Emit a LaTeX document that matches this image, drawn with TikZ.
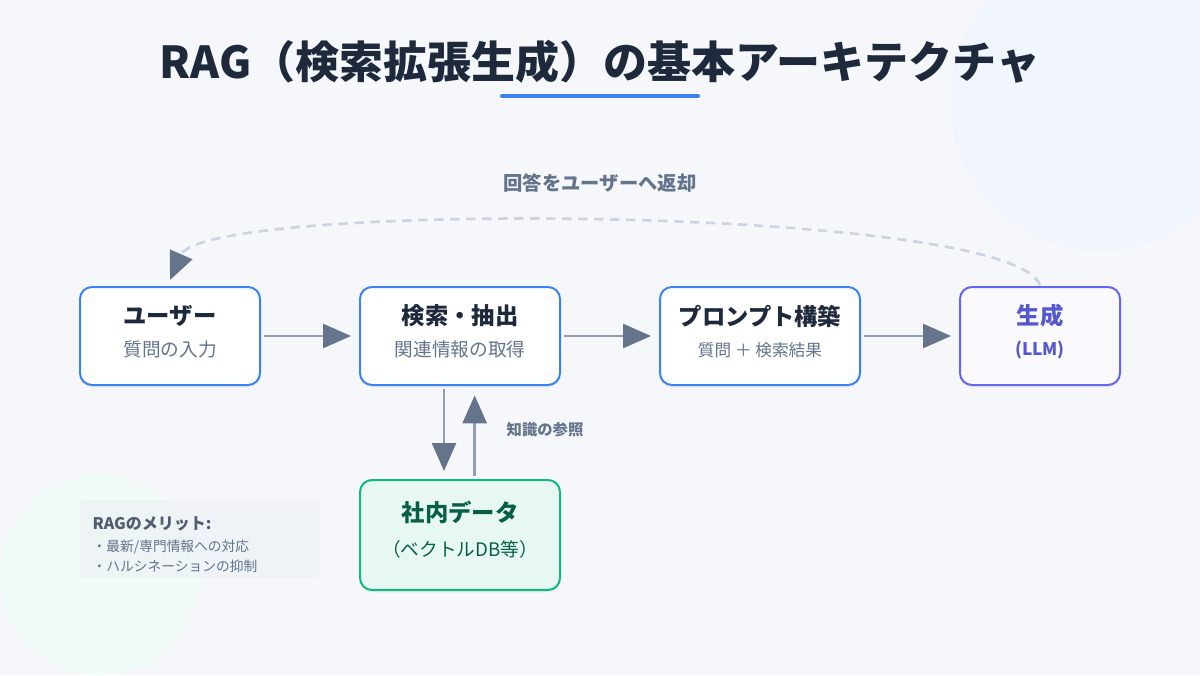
\documentclass[tikz,border=0pt]{standalone}
\usepackage{fontspec}
\setmainfont{Noto Sans CJK JP}
\usetikzlibrary{arrows.meta,shadows}
\definecolor{bgc}{HTML}{F5F7FA}
\definecolor{ink}{HTML}{1E293B}
\definecolor{sub}{HTML}{64748B}
\definecolor{blu}{HTML}{3B82F6}
\definecolor{pur}{HTML}{6366F1}
\definecolor{grn}{HTML}{10B981}
\definecolor{dgrn}{HTML}{065F46}
\definecolor{arr}{HTML}{64748B}
\definecolor{dsh}{HTML}{CBD5E1}
\definecolor{mer}{HTML}{EEF1F5}
\begin{document}
\begin{tikzpicture}[x=0.75pt,y=-0.75pt,
 box/.style={draw=blu,line width=1.5pt,fill=white,rounded corners=9pt,drop shadow={opacity=0.08,shadow xshift=0pt,shadow yshift=-2pt}},
 tip/.style={-{Triangle[length=21pt,width=18pt,color=arr]}},
 flow/.style={draw=arr!70,line width=2pt,tip},
 tt/.style={font=\fontsize{17.5}{20}\selectfont\bfseries,text=ink},
 st/.style={font=\fontsize{14}{17}\selectfont,text=sub}]
\fill[bgc] (0,0) rectangle (1200,675);
\useasboundingbox (0,0) rectangle (1200,675);
\fill[blu!7] (1100,100) circle (150);
\fill[grn!6] (100,575) circle (100);
\node[font=\fontsize{33}{38}\selectfont\bfseries,text=ink] (title) at (600,62) {RAG（検索拡張生成）の基本アーキテクチャ};
\draw[blu,line width=3pt,line cap=round] (502,96) -- (698,96);
\node[box,minimum width=135pt,minimum height=73.5pt] (user) at (170,336) {};
\node[tt] (ut) at (170,316) {ユーザー};
\node[st] (us) at (170,349) {質問の入力};
\node[box,minimum width=150pt,minimum height=73.5pt] (srch) at (460,336) {};
\node[tt] (sst) at (460,316) {検索・抽出};
\node[st] (sss) at (460,349) {関連情報の取得};
\node[box,minimum width=150pt,minimum height=73.5pt] (prm) at (760,336) {};
\node[tt] (pt) at (760,316) {プロンプト構築};
\node[st,font=\fontsize{12.5}{15}\selectfont] (ps) at (760,350) {質問 ＋ 検索結果};
\node[box,draw=pur,minimum width=120pt,minimum height=73.5pt,fill=pur!4] (gen) at (1040,336) {};
\node[tt,text=pur!85!black] (gt) at (1040,316) {生成};
\node[font=\fontsize{13}{15}\selectfont\bfseries,text=pur!85!black] (gs) at (1040,350) {(LLM)};
\node[box,draw=grn,fill=grn!10,minimum width=150pt,minimum height=82.5pt] (db) at (460,535) {};
\node[tt,text=dgrn] (dt) at (460,512) {社内データ};
\node[st,text=dgrn] (ds) at (460,549) {（ベクトルDB等）};
\draw[flow] ([xshift=2]user.east) -- ([xshift=-6]srch.west);
\draw[flow] ([xshift=2]srch.east) -- ([xshift=-6]prm.west);
\draw[flow] ([xshift=2]prm.east) -- ([xshift=-6]gen.west);
\draw[flow] ([xshift=-12,yshift=-2]srch.south) -- ([xshift=-12,yshift=6]db.north);
\draw[flow] ([xshift=11,yshift=2]db.north) -- ([xshift=11,yshift=-7]srch.south);
\node[font=\fontsize{11.5}{14}\selectfont\bfseries,text=sub] (kl) at (545,430) {知識の参照};
\coordinate (c0) at (1040,285);
\coordinate (c1) at (170,280);
\draw[draw=dsh,line width=2pt,dash pattern=on 7pt off 5pt,tip] (c0) .. controls (1010,205) and (205,200) .. (c1);
\node[font=\fontsize{14.5}{17}\selectfont\bfseries,text=sub] (rl) at (600,183) {回答をユーザーへ返却};
\fill[mer,opacity=0.8,rounded corners=4pt] (80,500) rectangle (320,578);
\node[anchor=west,font=\fontsize{12}{14}\selectfont\bfseries,text=sub!80!black] (mt) at (88,524) {RAGのメリット:};
\node[anchor=west,font=\fontsize{10.3}{12}\selectfont,text=sub] (m1) at (88,547) {・最新/専門情報への対応};
\node[anchor=west,font=\fontsize{10.3}{12}\selectfont,text=sub] (m2) at (88,566) {・ハルシネーションの抑制};
\end{tikzpicture}
\end{document}
